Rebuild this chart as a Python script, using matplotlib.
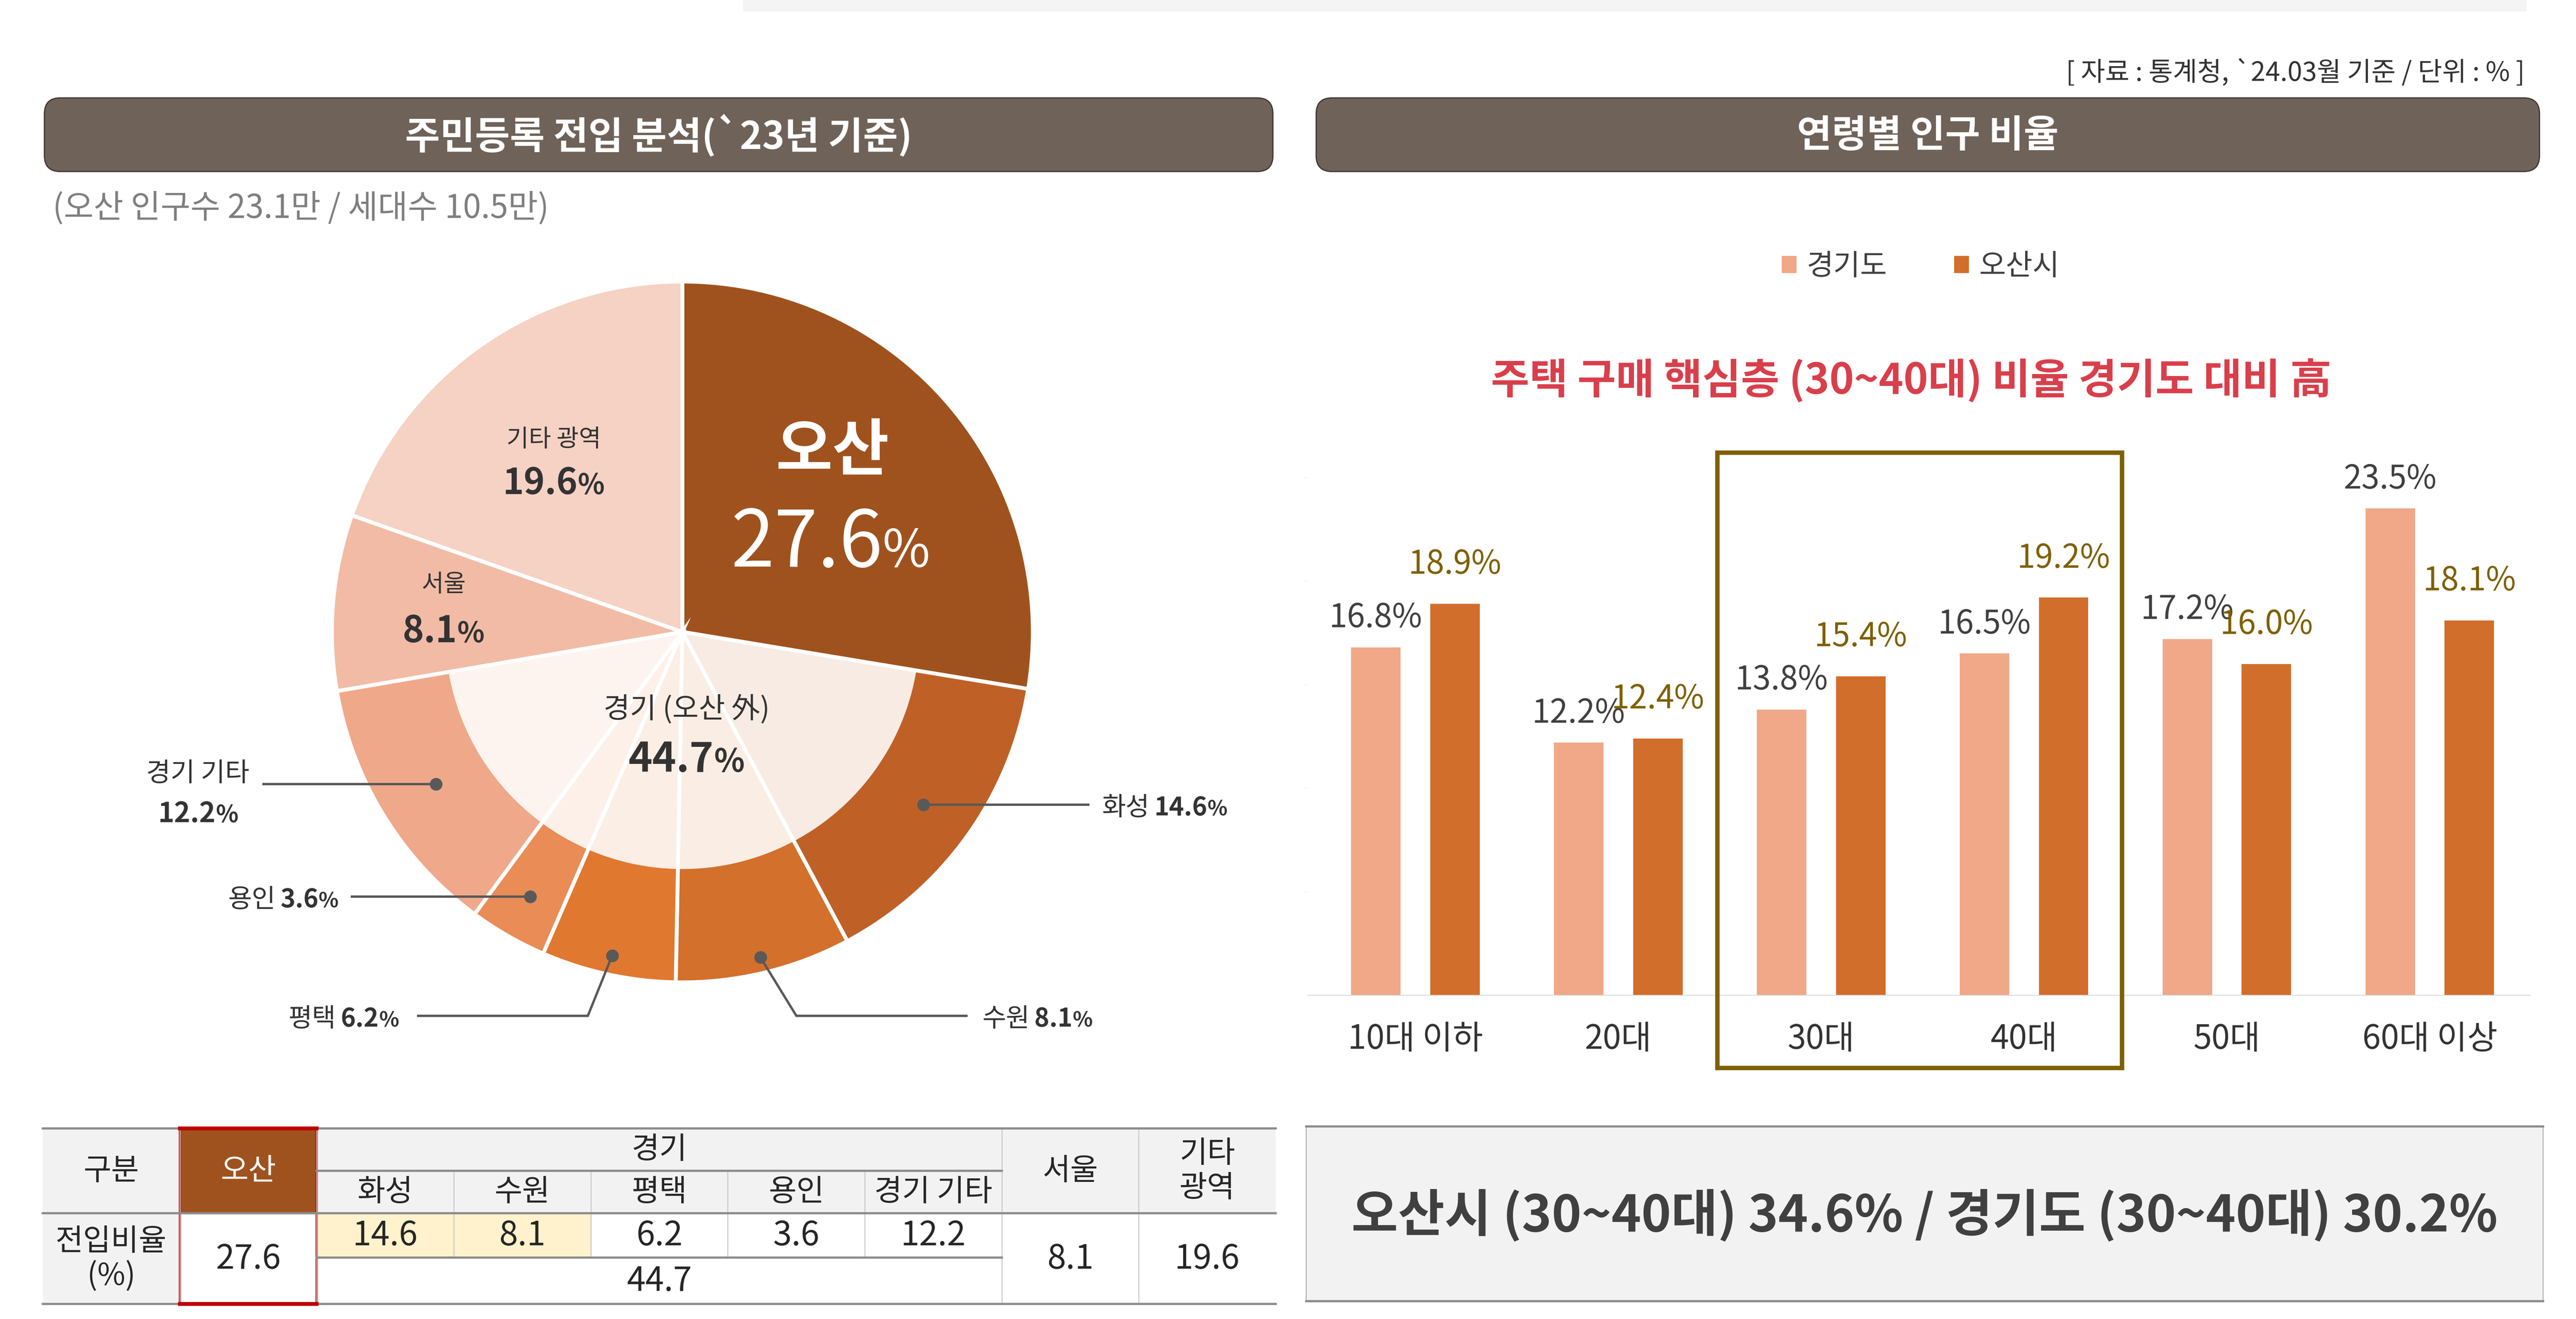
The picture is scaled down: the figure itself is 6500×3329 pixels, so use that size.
import matplotlib
matplotlib.use("Agg")
import matplotlib.pyplot as plt
import numpy as np
from matplotlib.patches import Rectangle, FancyBboxPatch, Patch
from matplotlib.transforms import offset_copy

plt.rcParams["font.family"] = ["Noto Sans CJK KR", "DejaVu Sans"]

# ── data ─────────────────────────────────────────────────────────────
pie_labels = ["오산", "화성", "수원", "평택", "용인", "경기 기타", "서울", "기타 광역"]
pie_values = [27.6, 14.6, 8.1, 6.2, 3.6, 12.2, 8.1, 19.6]
pie_colors = ["#a0521e", "#bf6127", "#d2702c", "#e07830",
              "#e98c56", "#efa98a", "#f2bba6", "#f5d2c4"]
is_gyeonggi = [False, True, True, True, True, True, False, False]
gyeonggi_total = 44.7

age_groups = ["10대 이하", "20대", "30대", "40대", "50대", "60대 이상"]
gyeonggi_share = [16.8, 12.2, 13.8, 16.5, 17.2, 23.5]
osan_share = [18.9, 12.4, 15.4, 19.2, 16.0, 18.1]

summary_text = "오산시 (30~40대) 34.6% / 경기도 (30~40대) 30.2%"

W, H = 6500, 3330
fig = plt.figure(figsize=(W / 100, H / 100), dpi=100)
renderer = fig.canvas.get_renderer()

# background axes in pixel coordinates (y down)
bg = fig.add_axes([0, 0, 1, 1])
bg.set_xlim(0, W)
bg.set_ylim(H, 0)
bg.axis("off")

bg.add_patch(Rectangle((1875, 0), 4500, 30, color="#f4f4f4", lw=0))
bg.text(6371, 184, "[ 자료 : 통계청, `24.03월 기준 / 단위 : % ]", ha="right",
        va="center", fontsize=48, color="#333333")

for x0, x1, title in [(112, 3212, "주민등록 전입 분석(`23년 기준)"),
                      (3321, 6408, "연령별 인구 비율")]:
    bg.add_patch(FancyBboxPatch((x0, 248), x1 - x0, 186,
                                boxstyle="round,pad=0,rounding_size=40",
                                fc="#6f6259", ec="#3b302a", lw=2))
    bg.text((x0 + x1) / 2, 343, title, ha="center", va="center",
            fontsize=69, color="white", fontweight="bold")

bg.text(133, 526, "(오산 인구수 23.1만 / 세대수 10.5만)", ha="left", va="center",
        fontsize=59, color="#7f7f7f")


def seg_text(ax, x, y, segs, ha="center", **kw):
    """several text pieces (text, size, weight, gap before in px) on one baseline"""
    texts, lefts, cur = [], [], 0.0
    for s, size, weight, gap in segs:
        t = ax.text(x, y, s, fontsize=size, fontweight=weight, ha="left",
                    va="baseline", **kw)
        cur += gap
        lefts.append(cur)
        cur += t.get_window_extent(renderer).width
        texts.append(t)
    start = {"left": 0, "center": -cur / 2, "right": -cur}[ha]
    for t, lx in zip(texts, lefts):
        t.set_transform(offset_copy(ax.transData, fig=fig, x=start + lx, y=0,
                                    units="dots"))


def num_pct(num, size, weight, ratio=0.72):
    return [(num, size, weight, 0), ("%", size * ratio, weight, 0)]


# ── pie ──────────────────────────────────────────────────────────────
pax = fig.add_axes([108 / W, 1 - 2736 / H, 3092 / W, 2156 / H])
pax.pie(pie_values, colors=pie_colors, startangle=90, counterclock=False,
        radius=1.005, wedgeprops=dict(edgecolor="white", linewidth=7))
inner_colors = [(1, 1, 1, 0.88) if g else (1, 1, 1, 0) for g in is_gyeonggi]
pax.pie(pie_values, colors=inner_colors, startangle=90, counterclock=False,
        radius=0.68, wedgeprops=dict(edgecolor="none", linewidth=0))
pax.set_xlim(-1.834, 1.680)
pax.set_ylim(-1.2955, 1.1545)
pax.set_aspect("auto")
pax.axis("off")

dark = "#333333"
pax.text(0.431, 0.518, pie_labels[0], ha="center", va="center", fontsize=112,
         color="white", fontweight="bold")
seg_text(pax, 0.425, 0.189, num_pct(f"{pie_values[0]}", 142, "normal", 0.66),
         color="white")
pax.text(-0.369, 0.553, pie_labels[7], ha="center", va="center", fontsize=44,
         color=dark)
seg_text(pax, -0.369, 0.396, num_pct(f"{pie_values[7]}", 65, "bold", 0.78), color=dark)
pax.text(-0.685, 0.137, pie_labels[6], ha="center", va="center", fontsize=44,
         color=dark)
seg_text(pax, -0.685, -0.028, num_pct(f"{pie_values[6]}", 66, "bold", 0.78), color=dark)
pax.text(0.012, -0.221, "경기 (오산 外)", ha="center", va="center", fontsize=52,
         color=dark)
seg_text(pax, 0.012, -0.400, num_pct(f"{gyeonggi_total}", 74, "bold", 0.78), color=dark)

# leaders for the Gyeonggi cities
cum = np.concatenate([[0], np.cumsum(pie_values)])
mid_angles = np.deg2rad(90 - 360 * (cum[:-1] + np.array(pie_values) / 2) / 100)
leaders = {
    "화성": dict(r=0.85, elbow=None, end_x=1.168, tx=1.203, ha="left"),
    "수원": dict(r=0.96, elbow=(0.327, -1.101), end_x=0.818, tx=0.86, ha="left"),
    "평택": dict(r=0.95, elbow=(-0.271, -1.101), end_x=-0.761, tx=-0.813, ha="right"),
    "용인": dict(r=0.875, elbow=None, end_x=-0.951, tx=-0.986, ha="right"),
    "경기 기타": dict(r=0.83, elbow=None, end_x=-1.204, tx=-1.389, ha="center"),
}
lead_color = "#595959"
for i, name in enumerate(pie_labels):
    if name not in leaders:
        continue
    spec = leaders[name]
    dx, dy = spec["r"] * np.cos(mid_angles[i]), spec["r"] * np.sin(mid_angles[i])
    xs, ys = [dx], [dy]
    if spec["elbow"] is not None:
        xs.append(spec["elbow"][0])
        ys.append(spec["elbow"][1])
    ly = ys[-1]
    xs.append(spec["end_x"])
    ys.append(ly)
    pax.plot(xs, ys, color=lead_color, lw=4.3, solid_capstyle="butt")
    pax.plot(dx, dy, "o", color=lead_color, ms=22)
    if name == "경기 기타":
        pax.text(spec["tx"], ly + 0.03, name, ha="center", va="center",
                 fontsize=48, color=dark)
        seg_text(pax, spec["tx"], ly - 0.108,
                 num_pct(f"{pie_values[i]}", 50, "bold", 0.85), color=dark)
    else:
        segs = [(name, 47, "normal", 0)] + [
            (s, sz, w, 12 if k == 0 else 0)
            for k, (s, sz, w, _) in enumerate(num_pct(f"{pie_values[i]}", 46, "bold", 0.82))
        ]
        seg_text(pax, spec["tx"], ly - 0.03, segs, ha=spec["ha"], color=dark)

# ── table ────────────────────────────────────────────────────────────
tx0, tx1 = 108, 3219
col_w = (tx1 - tx0) / 9
xe = [tx0 + i * col_w for i in range(10)]
ye = [2849, 2956, 3063, 3175, 3292]
gray, white, yellow, brown = "#f2f2f2", "white", "#fff2cc", "#a0521e"
tcol = "#262626"

cells = [
    (0, 1, 0, 2, "구분", gray, tcol),
    (1, 2, 0, 2, pie_labels[0], brown, "white"),
    (2, 7, 0, 1, "경기", gray, tcol),
    (7, 8, 0, 2, pie_labels[6], gray, tcol),
    (8, 9, 0, 2, "기타\n광역", gray, tcol),
    (0, 1, 2, 4, "전입비율\n(%)", gray, tcol),
    (1, 2, 2, 4, f"{pie_values[0]}", white, tcol),
    (2, 7, 3, 4, f"{gyeonggi_total}", white, tcol),
    (7, 8, 2, 4, f"{pie_values[6]}", white, tcol),
    (8, 9, 2, 4, f"{pie_values[7]}", white, tcol),
]
for k in range(5):
    cells.append((2 + k, 3 + k, 1, 2, pie_labels[1 + k], gray, tcol))
    cells.append((2 + k, 3 + k, 2, 3, f"{pie_values[1 + k]}",
                  yellow if k < 2 else white, tcol))

for c0, c1, r0, r1, txt, fc, tc in cells:
    bg.add_patch(Rectangle((xe[c0], ye[r0]), xe[c1] - xe[c0], ye[r1] - ye[r0],
                           fc=fc, ec="none"))
    is_num = txt.replace(".", "").isdigit()
    bg.text((xe[c0] + xe[c1]) / 2, (ye[r0] + ye[r1]) / 2, txt, ha="center",
            va="center", fontsize=61 if is_num else 55, color=tc, linespacing=1.12)

for c in [1, 2, 7, 8]:
    bg.plot([xe[c], xe[c]], [ye[0], ye[4]], color="#c8c8c8", lw=1.8)
for c in [3, 4, 5, 6]:
    bg.plot([xe[c], xe[c]], [ye[1], ye[3]], color="#c8c8c8", lw=1.8)
for y in [ye[0], ye[2], ye[4]]:
    bg.plot([tx0, tx1], [y, y], color="#8c8c8c", lw=4)
for y in [ye[1], ye[3]]:
    bg.plot([xe[2], xe[7]], [y, y], color="#8c8c8c", lw=4)
bg.add_patch(Rectangle((xe[1], ye[0]), col_w, ye[4] - ye[0], fill=False,
                       ec="#c00000", lw=4))
for y in [ye[0], ye[4]]:
    bg.plot([xe[1], xe[2]], [y, y], color="#c00000", lw=7)

# ── bar chart ────────────────────────────────────────────────────────
bax = fig.add_axes([3300 / W, 1 - 2513 / H, (6385 - 3300) / W, (2513 - 1206) / H])
x = np.arange(len(age_groups))
bw, off = 0.244, 0.195
bax.bar(x - off, gyeonggi_share, bw, color="#f0a888", zorder=2)
bax.bar(x + off, osan_share, bw, color="#d26e2c", zorder=2)
for xi, v in zip(x - off, gyeonggi_share):
    bax.annotate(f"{v}%", (xi, v), xytext=(0, 54), textcoords="offset points",
                 ha="center", va="center", fontsize=59, color="#404040")
for xi, v in zip(x + off, osan_share):
    bax.annotate(f"{v}%", (xi, v), xytext=(0, 72), textcoords="offset points",
                 ha="center", va="center", fontsize=59, color="#7f6000")
bax.set_xlim(-0.53, 5.496)
bax.set_ylim(0, 25)
bax.set_xticks(x, age_groups)
bax.set_yticks([5, 10, 15, 20, 25])
bax.tick_params(axis="x", length=0, pad=48, labelsize=60, labelcolor=dark)
bax.tick_params(axis="y", length=8, color="#ececec", labelleft=False)
for s in ["top", "right", "left"]:
    bax.spines[s].set_visible(False)
bax.spines["bottom"].set_color("#d9d9d9")
bax.spines["bottom"].set_linewidth(1.5)
bax.patch.set_alpha(0)

# highlight of the 30~40대 groups
bax.add_patch(Rectangle((2 - 0.512, -3.5), 1 + 0.512 + 0.482, 29.7, fill=False,
                        ec="#7f6000", lw=8, clip_on=False, zorder=3))

fig.legend(handles=[Patch(color="#f0a888", label="경기도"),
                    Patch(color="#d26e2c", label="오산시")],
           loc="center", bbox_to_anchor=(4846 / W, 1 - 673 / H), ncol=2,
           frameon=False, fontsize=53, handlelength=0.5, handleheight=0.5,
           handletextpad=0.35, columnspacing=2.3, labelcolor="#404040")

bg.text(4823, 962, "주택 구매 핵심층 (30~40대) 비율 경기도 대비 高", ha="center",
        va="center", fontsize=76, fontweight="bold", color="#d93f4b")

# summary box
bg.add_patch(Rectangle((3296, 2844), 3121, 441, fc="#f2f2f2", ec="#a6a6a6", lw=1.5))
for y in [2844, 3285]:
    bg.plot([3296, 6417], [y, y], color="#8c8c8c", lw=4)
bg.text(4856, 3068, summary_text, ha="center", va="center", fontsize=92,
        color="#404040", fontweight="bold")

fig.savefig("out.png", dpi=100)
